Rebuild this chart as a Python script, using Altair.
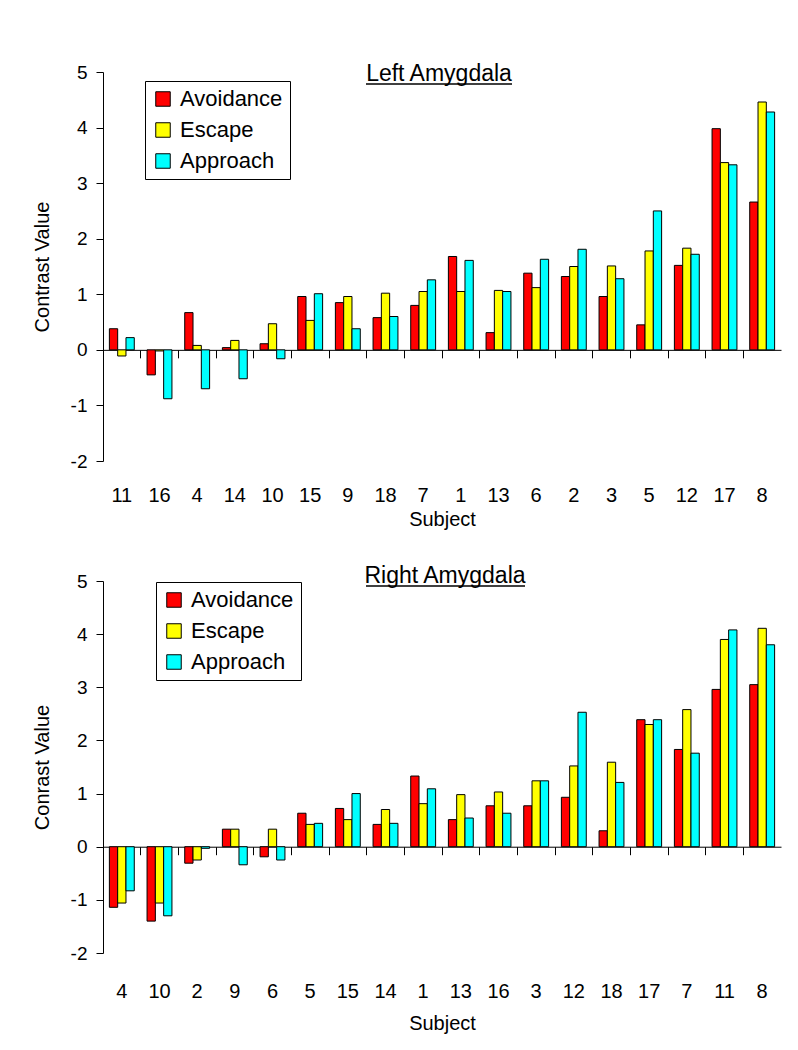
import altair as alt
import pandas as pd

conditions = ["Avoidance", "Escape", "Approach"]
colors = ["#FF0000", "#FFFF00", "#00FFFF"]

left_subjects = ["11", "16", "4", "14", "10", "15", "9", "18", "7", "1", "13", "6", "2", "3", "5", "12", "17", "8"]
left_avoidance = [0.38, -0.45, 0.67, 0.04, 0.11, 0.96, 0.85, 0.58, 0.80, 1.68, 0.31, 1.38, 1.32, 0.96, 0.45, 1.52, 3.98, 2.66]
left_escape = [-0.11, -0.02, 0.08, 0.17, 0.47, 0.53, 0.96, 1.02, 1.05, 1.05, 1.07, 1.12, 1.50, 1.51, 1.78, 1.83, 3.37, 4.46]
left_approach = [0.22, -0.88, -0.70, -0.52, -0.16, 1.01, 0.38, 0.60, 1.26, 1.61, 1.05, 1.63, 1.81, 1.28, 2.50, 1.72, 3.33, 4.28]

right_subjects = ["4", "10", "2", "9", "6", "5", "15", "14", "1", "13", "16", "3", "12", "18", "17", "7", "11", "8"]
right_avoidance = [-1.14, -1.40, -0.31, 0.33, -0.19, 0.63, 0.72, 0.42, 1.33, 0.51, 0.77, 0.77, 0.93, 0.30, 2.39, 1.83, 2.96, 3.05]
right_escape = [-1.06, -1.06, -0.25, 0.33, 0.33, 0.42, 0.51, 0.70, 0.81, 0.98, 1.03, 1.24, 1.52, 1.59, 2.30, 2.58, 3.90, 4.11]
right_approach = [-0.83, -1.30, -0.03, -0.34, -0.25, 0.44, 1.00, 0.44, 1.09, 0.54, 0.63, 1.24, 2.53, 1.21, 2.39, 1.76, 4.08, 3.80]

y_ticks = [-2, -1, 0, 1, 2, 3, 4, 5]
FONT = "Liberation Sans"
W = 678


def panel(subjects, series, title, ytitle, height, legend_x, legend_y,
          title_x, title_y, ul_x1, ul_x2, ul_y, label_pad, subj_y):
    rows = []
    for cond, vals in zip(conditions, series):
        for s, v in zip(subjects, vals):
            rows.append({"Subject": s, "Condition": cond, "Value": v})
    df = pd.DataFrame(rows)
    zero_off = height * 2.0 / 7.0

    bars = alt.Chart(df).mark_bar(stroke="black", strokeWidth=1, opacity=1).encode(
        x=alt.X("Subject:N", sort=subjects,
                scale=alt.Scale(paddingInner=0, paddingOuter=0),
                axis=alt.Axis(title="Subject", bandPosition=0, offset=-zero_off,
                              labelAngle=0, tickSize=8, labelPadding=label_pad,
                              labelBaseline="middle", labelFontSize=20,
                              titleFontSize=20, titleBaseline="middle",
                              titleY=subj_y, titleFontWeight="normal",
                              domainColor="black", tickColor="black",
                              labelColor="black", titleColor="black")),
        xOffset=alt.XOffset("Condition:N", sort=conditions,
                            scale=alt.Scale(paddingInner=0, paddingOuter=0.77)),
        y=alt.Y("Value:Q", scale=alt.Scale(domain=[-2, 5], nice=False, zero=False),
                axis=alt.Axis(title=ytitle, values=y_ticks, grid=False, tickSize=7,
                              labelExpr="'' + datum.value",
                              labelPadding=9, labelFontSize=19, titleFontSize=20,
                              titlePadding=18, titleFontWeight="normal",
                              domainColor="black", tickColor="black",
                              labelColor="black", titleColor="black")),
        color=alt.Color("Condition:N", sort=conditions,
                        scale=alt.Scale(domain=conditions, range=colors),
                        legend=alt.Legend(title=None, orient="none", legendX=legend_x,
                                          legendY=legend_y, strokeColor="black",
                                          fillColor="white", padding=7, rowPadding=9,
                                          symbolType="square", symbolSize=210,
                                          symbolStrokeColor="black", symbolStrokeWidth=1,
                                          symbolOpacity=1, labelFontSize=22,
                                          labelOffset=6, labelColor="black")),
    )

    tdf = pd.DataFrame({"t": [title]})
    ttext = alt.Chart(tdf).mark_text(fontSize=23, baseline="alphabetic", align="center",
                                     color="black", font=FONT).encode(
        text="t:N", x=alt.value(title_x), y=alt.value(title_y))
    uline = alt.Chart(tdf).mark_rule(color="black", strokeWidth=1.3).encode(
        x=alt.value(ul_x1), x2=alt.value(ul_x2), y=alt.value(ul_y))

    return alt.layer(bars, ttext, uline).properties(width=W, height=height)


top = panel(left_subjects, [left_avoidance, left_escape, left_approach],
            "Left Amygdala", "Contrast Value", 389, 42, 9,
            336, 9, 263, 409, 12, 138, 170)
bottom = panel(right_subjects, [right_avoidance, right_escape, right_approach],
               "Right Amygdala", "Conrast Value", 372, 53, 1,
               342, 2, 263, 422, 5, 137, 177)

chart = alt.vconcat(top, bottom, spacing=35).resolve_legend(color="independent").resolve_scale(
    x="independent"
).properties(
    padding={"left": 24, "top": 55, "right": 5, "bottom": 5}
).configure(font=FONT).configure_view(stroke=None)

chart.save("out.html", embed_options={"renderer": "svg", "actions": False})
